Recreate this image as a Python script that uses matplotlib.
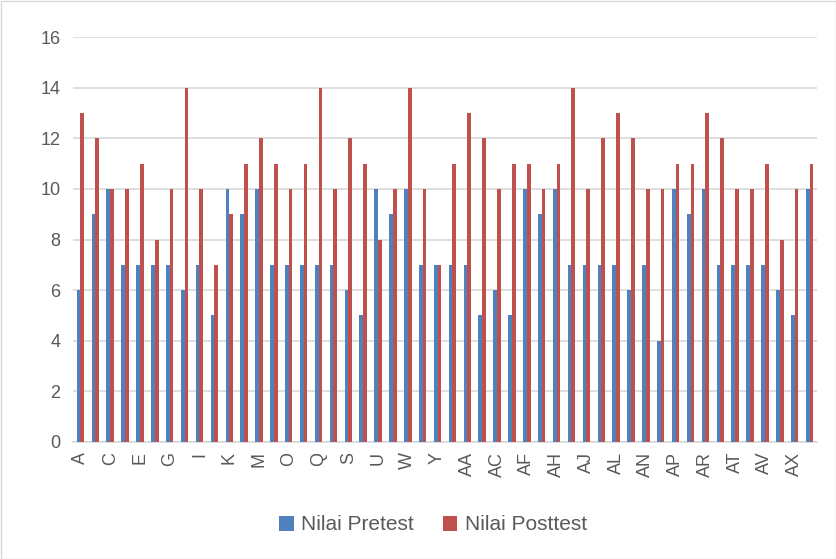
import matplotlib
matplotlib.use("Agg")
import matplotlib.pyplot as plt
import numpy as np
from matplotlib.patches import Patch, Rectangle

categories = ["A","B","C","D","E","F","G","H","I","J","K","L","M","N","O","P","Q","R","S","T",
              "U","V","W","X","Y","Z","AA","AB","AC","AD","AF","AG","AH","AI","AJ","AK","AL","AM",
              "AN","AO","AP","AQ","AR","AS","AT","AU","AV","AW","AX","AY"]
pretest = [6,9,10,7,7,7,7,6,7,5,10,9,10,7,7,7,7,7,6,5,
           10,9,10,7,7,7,7,5,6,5,10,9,10,7,7,7,7,6,
           7,4,10,9,10,7,7,7,7,6,5,10]
posttest = [13,12,10,10,11,8,10,14,10,7,9,11,12,11,10,11,14,10,12,11,
            8,10,14,10,7,11,13,12,10,11,11,10,11,14,10,12,13,12,
            10,10,11,11,13,12,10,10,11,8,10,11]
series_names = ["Nilai Pretest", "Nilai Posttest"]
yticks = [0,2,4,6,8,10,12,14,16]

BLUE = "#4F81BD"
RED = "#C0504D"
GRID = "#D9D9D9"
TXT = "#595959"

plt.rcParams['font.family'] = ['Liberation Sans', 'DejaVu Sans']

fig = plt.figure(figsize=(8.36, 5.59), dpi=100)
ax = fig.add_axes([73/836, 1-442/559, (817-73)/836, (442-37)/559])

x = np.arange(len(categories))
w = 0.25
ax.bar(x - w/2, pretest, width=w, color=BLUE, label=series_names[0], zorder=3)
ax.bar(x + w/2, posttest, width=w, color=RED, label=series_names[1], zorder=3)

ax.set_xlim(-0.5, len(categories) - 0.5)
ax.set_ylim(0, 16)
ax.set_yticks(yticks)
ax.set_yticklabels([str(v) for v in yticks], fontsize=13, color=TXT)
ax.yaxis.grid(True, color=GRID, linewidth=1.2, zorder=0)
ax.set_axisbelow(True)

ax.set_xticks(x[::2])
ax.set_xticklabels(categories[::2], rotation=90, fontsize=13, color=TXT)
ax.tick_params(axis='both', length=0)
ax.tick_params(axis='x', pad=7)
ax.tick_params(axis='y', pad=9)

for s in ['top', 'right', 'left']:
    ax.spines[s].set_visible(False)
ax.spines['bottom'].set_color(GRID)
ax.spines['bottom'].set_linewidth(1.2)

handles = [Patch(facecolor=BLUE, edgecolor='none'), Patch(facecolor=RED, edgecolor='none')]
leg = fig.legend(handles, series_names, loc='center', bbox_to_anchor=(433/836, 1-525/559),
                 ncol=2, frameon=False, fontsize=15, handlelength=0.7, handleheight=0.7,
                 handletextpad=0.35, columnspacing=1.4, labelcolor=TXT)

fig.patches.append(Rectangle((0.5/836, 0.5/559), 1-1/836, 1-1/559, transform=fig.transFigure,
                             fill=False, edgecolor=GRID, linewidth=1))

fig.savefig("out.png", dpi=100)
